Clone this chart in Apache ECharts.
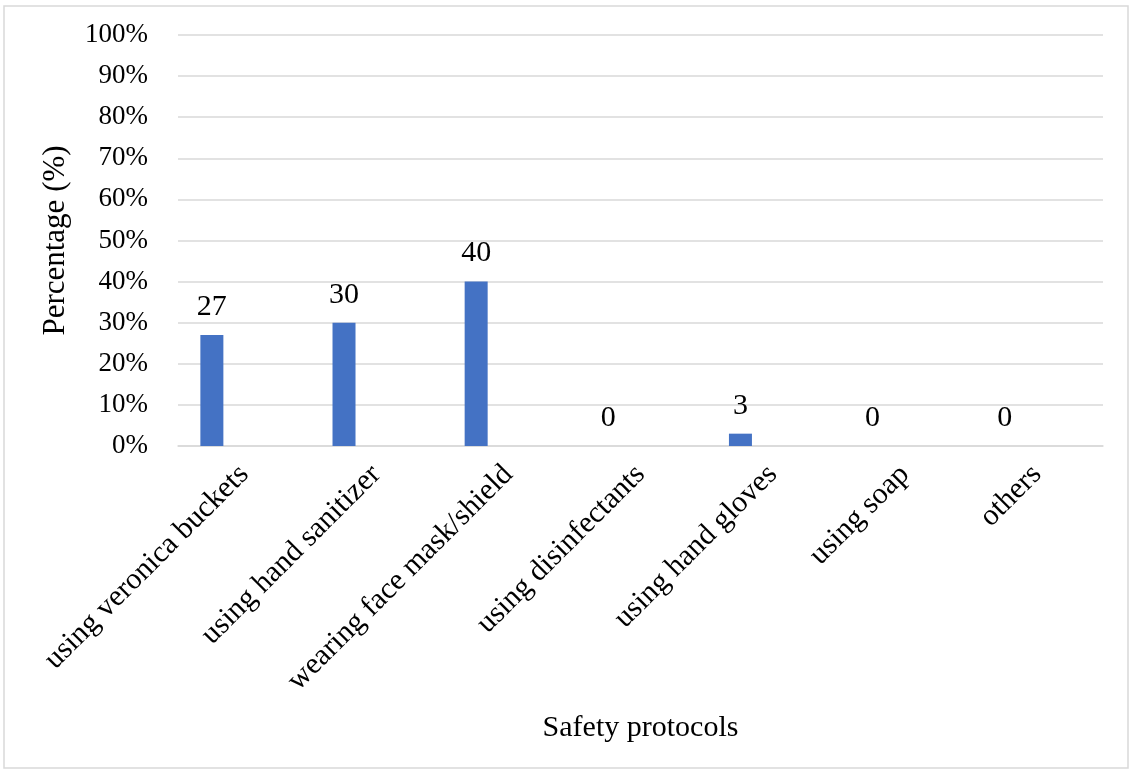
<!DOCTYPE html>
<html>
<head>
<meta charset="utf-8">
<script src="https://cdn.jsdelivr.net/npm/echarts@6/dist/echarts.min.js"></script>
<style>
  html, body { margin: 0; padding: 0; background: #fff; }
  #chart { width: 1132px; height: 771px; }
</style>
</head>
<body>
<div id="chart"></div>
<script>
// Share of respondents by safety protocol used
const categories = [
  'using veronica buckets',
  'using hand sanitizer',
  'wearing face mask/shield',
  'using disinfectants',
  'using hand gloves',
  'using soap',
  'others'
];
const percentages = [27, 30, 40, 0, 3, 0, 0];
// empty companion series keeps each bar in the left part of its slot
const emptySlot = [null, null, null, null, null, null, null];

const FONT = '"Liberation Serif", "Times New Roman", serif';

const chart = echarts.init(document.getElementById('chart'), null, { renderer: 'canvas' });
chart.setOption({
  backgroundColor: '#ffffff',
  animation: false,
  textStyle: { fontFamily: FONT, color: '#000' },
  graphic: [{
    type: 'rect',
    shape: { x: 4, y: 6, width: 1124, height: 762 },
    style: { fill: 'none', stroke: '#d9d9d9', lineWidth: 1.5 },
    silent: true
  }],
  grid: { left: 178, right: 29, top: 35, bottom: 325, containLabel: false },
  xAxis: {
    type: 'category',
    data: categories,
    name: 'Safety protocols',
    nameLocation: 'middle',
    nameGap: 267,
    nameTextStyle: { fontFamily: FONT, fontSize: 30, color: '#000' },
    axisLine: { show: true, lineStyle: { color: '#d9d9d9', width: 1.5 } },
    axisTick: { show: false },
    axisLabel: {
      rotate: 45,
      interval: 0,
      margin: 24,
      fontFamily: FONT,
      fontSize: 30,
      color: '#000'
    }
  },
  yAxis: {
    type: 'value',
    min: 0,
    max: 100,
    interval: 10,
    name: 'Percentage (%)',
    nameLocation: 'middle',
    nameGap: 107,
    nameRotate: 90,
    nameTextStyle: { fontFamily: FONT, fontSize: 31, color: '#000' },
    axisLine: { show: false },
    axisTick: { show: false },
    splitLine: { lineStyle: { color: '#d9d9d9', width: 1.5 } },
    axisLabel: {
      formatter: '{value}%',
      margin: 30,
      fontFamily: FONT,
      fontSize: 27,
      color: '#000'
    }
  },
  series: [
    {
      type: 'bar',
      data: percentages,
      barWidth: 23,
      barGap: '180%',
      itemStyle: { color: '#4472c4' },
      label: {
        show: true,
        position: 'top',
        distance: 13,
        fontFamily: FONT,
        fontSize: 30,
        color: '#000'
      }
    },
    {
      type: 'bar',
      data: emptySlot,
      barWidth: 23,
      itemStyle: { color: 'transparent' },
      silent: true
    }
  ]
});
</script>
</body>
</html>
